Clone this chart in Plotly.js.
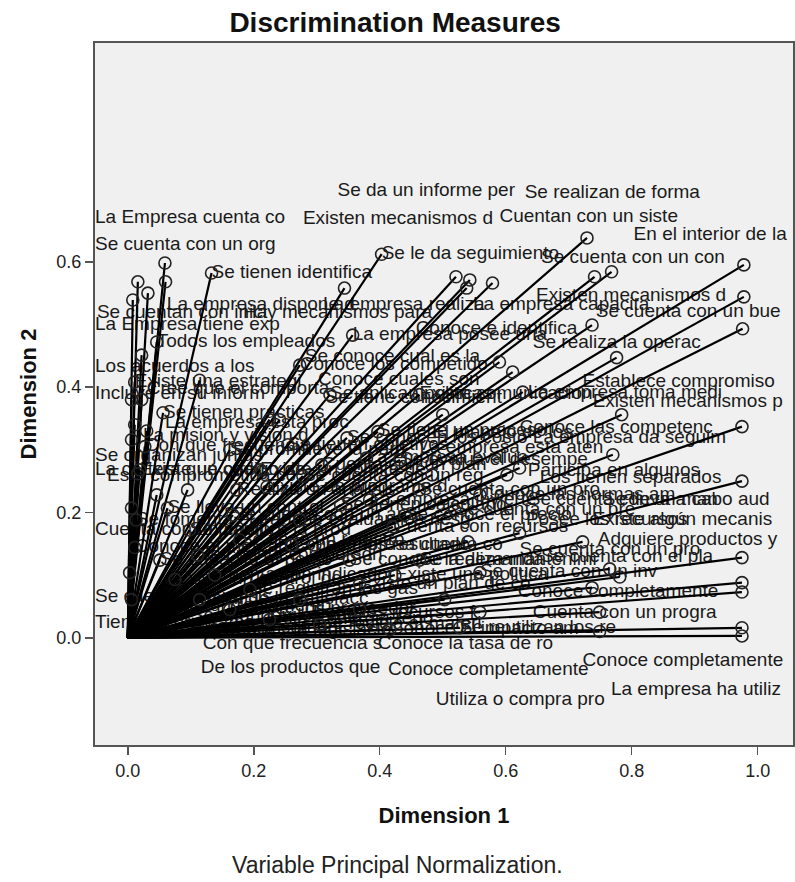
<!DOCTYPE html>
<html>
<head>
<meta charset="utf-8">
<script src="https://cdn.plot.ly/plotly-3.0.1.min.js"></script>
<style>html,body{margin:0;padding:0;background:#fff;}#chart{width:795px;height:882px;}</style>
</head>
<body>
<div id="chart"></div>
<script>
// Variable names (truncated as in the SPSS output)
const varNames = [
"La Empresa cuenta co","Se cuenta con un org","Se cuentan con inici","La empresa dispone d","Se tienen identifica",
"Se le da seguimiento","Se da un informe per","La empresa posee una","Existen mecanismos d","La empresa realiza",
"Hay mecanismos para","La empresa capacita","Se realizan de forma","Cuentan con un siste","Se cuenta con un con",
"En el interior de la","Existen mecanismos d","Se cuenta con un bue","Conoce e identifica","Se realiza la operac",
"Se conoce cual es la","Conoce cuales son","La empresa toma medi","Establece compromiso","Existen mecanismos p",
"Se tiene conocimient","La empresa da seguim","Conoce las competenc","La empresa esta aten","El manejo de los",
"Participa en algunos","Los tienen separados","Se lleva a cabo aud","Se cuenta con un man","Existe algún mecanis",
"Posee los recursos","Adquiere productos y","Se cuenta con un pro","Se cuenta con el pla","Conoce completamente",
"Cuenta con un progra","Conoce completamente","La empresa ha utiliz","Utiliza o compra pro","Conoce completamente",
"Conoce la tasa de ro","De los productos que","Con que frecuencia s","Todos los empleados","La Empresa tiene exp",
"Los acuerdos a los","Existe una estrategi","Incluye en su inform","Cree que el comporta","Se tienen practicas",
"La empresa esta proc","La mision y vision d","Con que frecuencia","Se organizan juntas","La cartera que ofrec",
"Esta comprometida co","Cuenta con un equipo","Se cuenta con un sis","Tiene un programa de","Se lleva un control",
"Conoce el mercado","Se cuenta con person","Cuenta con un plan","Se tiene un proceso","Se conocen los costo",
"La empresa evalua","Se cuenta con un reg","Se tienen calculado","Cuenta con recursos","Se conoce el precio",
"Se cuenta con un pre","Realiza un analisis","Existe un programa d","Se cuenta con un ana","Se tiene un registro",
"Conoce los resultado","La empresa cuenta co","Se conoce la demanda","Tiene los recursos f","Se cuenta con un inv",
"Conoce los competido","Se aplican politicas","Existe comunicacion","Se evalua el desempe","Se tienen objetivos",
"Existe una politica",
"Se capacita al perso","Existe un control de","Se mide la satisfacc","Conoce los proveedor","Se planifica la prod",
"Cuenta con indicador","Se registran los gas","Utiliza energia reno","Se recicla el materi","Conoce el impacto am",
"Se reutilizan los re","Se realiza mantenimi","Existe un plan de co","Se evaluan los riesg","La empresa invierte",
"Se cuenta con un pro","Conoce las normas am","Existe un comite de","Se promueve la parti","Conoce la legislacio",
"Se difunden los valo","Existe un codigo de","Se fomenta el trabaj","Existe un reglamento","Se apoya a la comuni"
];
// Discrimination measures, dimension 1
const dim1 = [
0.016,0.059,0.032,0.060,0.133, 0.403,0.344,0.357,0.521,0.543,
0.538,0.579,0.729,0.741,0.768, 0.978,0.978,0.976,0.737,0.776,
0.611,0.590,0.627,0.784,0.975, 0.500,0.770,0.622,0.602,0.483,
0.722,0.975,0.975,0.622,0.975, 0.540,0.765,0.781,0.975,0.737,
0.749,0.975,0.975,0.749,0.559, 0.503,0.368,0.273,0.046,0.022,
0.006,0.011,0.011,0.225,0.056, 0.030,0.006,0.027,0.016,0.046,
0.095,0.006,0.006,0.003,0.063, 0.011,0.111,0.308,0.397,0.348,
0.379,0.278,0.338,0.421,0.440, 0.519,0.173,0.221,0.167,0.178,
0.260,0.297,0.352,0.479,0.559, 0.273,0.321,0.463,0.432,0.254,
0.424,
0.051,0.075,0.114,0.162,0.098, 0.138,0.194,0.225,0.305,0.416,
0.527,0.463,0.368,0.273,0.384, 0.463,0.559,0.210,0.162,0.241,
0.114,0.019,0.013,0.022,0.008
];
// Discrimination measures, dimension 2
const dim2 = [
0.568,0.598,0.550,0.568,0.582, 0.612,0.558,0.483,0.576,0.571,
0.558,0.566,0.638,0.576,0.584, 0.595,0.544,0.493,0.499,0.447,
0.424,0.440,0.392,0.356,0.337, 0.356,0.292,0.271,0.260,0.260,
0.153,0.250,0.128,0.167,0.088, 0.153,0.110,0.097,0.073,0.080,
0.041,0.016,0.003,0.010,0.041, 0.061,0.045,0.061,0.472,0.451,
0.380,0.408,0.340,0.348,0.359, 0.330,0.316,0.305,0.262,0.228,
0.236,0.207,0.061,0.104,0.207, 0.144,0.132,0.276,0.329,0.319,
0.287,0.258,0.212,0.177,0.196, 0.204,0.236,0.241,0.196,0.156,
0.148,0.148,0.124,0.093,0.104, 0.435,0.388,0.388,0.284,0.308,
0.100,
0.124,0.093,0.061,0.045,0.172, 0.100,0.077,0.029,0.021,0.013,
0.016,0.124,0.085,0.188,0.220, 0.236,0.228,0.268,0.300,0.348,
0.411,0.268,0.188,0.380,0.539
];
// Where SPSS placed each label (null = next to its point)
const labelDim1 = [
-0.052,-0.052,-0.049,0.062,null, null,0.333,null,0.278,0.310,
0.183,0.548,0.630,0.590,0.656, 0.803,0.648,0.743,0.457,0.643,
0.281,0.302,0.635,0.722,0.738, 0.314,0.643,0.622,0.463,0.483,
0.635,0.654,0.754,0.635,0.738, 0.632,0.746,0.622,0.656,0.619,
0.643,0.722,0.767,0.489,0.413, 0.397,0.116,0.119,null,-0.052,
-0.052,null,-0.052,0.030,null, 0.059,0.024,null,-0.052,-0.052,
-0.033,-0.052,-0.052,-0.052,null, null,null,null,null,null,
null,null,null,null,null, null,null,null,null,null,
null,null,null,0.289,null, null,null,null,null,null,
null,
null,null,null,null,null, null,null,null,null,null,
null,null,null,null,null, null,null,null,null,0.150,
0.100,null,null,0.040,0.050
];
const labelDim2 = [
0.670,0.627,0.518,0.531,null, null,0.713,null,0.668,0.531,
0.518,0.531,0.710,0.671,0.606, 0.643,0.545,0.520,0.493,0.470,
0.447,0.411,0.391,0.407,0.376, 0.383,0.319,0.335,0.303,0.327,
0.266,0.255,0.220,0.220,0.188, 0.188,0.156,0.139,0.129,0.072,
0.040,-0.038,-0.083,-0.100,-0.051, -0.011,-0.048,-0.011,null,0.498,
0.431,null,0.388,0.396,null, 0.343,0.322,null,0.289,0.268,
0.257,0.172,0.064,0.024,null, null,null,null,null,null,
null,null,null,null,null, null,null,null,null,null,
null,null,null,0.040,null, null,null,null,null,null,
null,
null,null,null,null,null, null,null,null,null,null,
null,null,null,null,null, null,null,null,null,0.012,
0.035,null,null,0.050,0.015
];
const xTicks = [0.0,0.2,0.4,0.6,0.8,1.0];
const yTicks = [0.0,0.2,0.4,0.6];

const n = varNames.length;
const lx = [], ly = [];
for (let i = 0; i < n; i++) { lx.push(0, dim1[i], null); ly.push(0, dim2[i], null); }
const tx = varNames.map((_, i) => labelDim1[i] === null ? dim1[i] : labelDim1[i]);
const ty = varNames.map((_, i) => labelDim2[i] === null ? dim2[i] : labelDim2[i]);

const font = "Arial, 'Liberation Sans', sans-serif";
const traces = [
  { type:'scatter', mode:'text', x:tx, y:ty, text:varNames, textposition:'middle right',
    textfont:{family:font, size:19, color:'#1a1a1a'}, cliponaxis:false, hoverinfo:'skip', showlegend:false },
  { type:'scatter', mode:'lines', x:lx, y:ly, line:{color:'#000', width:2.2}, hoverinfo:'skip', showlegend:false },
  { type:'scatter', mode:'markers', x:dim1, y:dim2, text:varNames,
    marker:{symbol:'circle-open', size:12, color:'#222', line:{width:1.6, color:'#222'}}, showlegend:false }
];

const layout = {
  width:795, height:882,
  margin:{l:95, r:2, t:43, b:137},
  paper_bgcolor:'#ffffff', plot_bgcolor:'#f0f0f0',
  font:{family:font, color:'#222'},
  title:{text:'<b>Discrimination Measures</b>', font:{family:font, size:28, color:'#111'},
         x:0.497, xref:'container', y:0.975, yref:'container', xanchor:'center', yanchor:'middle'},
  xaxis:{range:[-0.052,1.056], tickvals:xTicks, tickformat:'.1f', ticks:'outside', ticklen:8, tickwidth:1.5,
         tickcolor:'#555', showline:true, mirror:true, linecolor:'#555', linewidth:2, showgrid:false, zeroline:false,
         tickfont:{family:font, size:18, color:'#222'},
         title:{text:'<b>Dimension 1</b>', font:{family:font, size:22, color:'#111'}, standoff:28}},
  yaxis:{range:[-0.171,0.949], tickvals:yTicks, tickformat:'.1f', ticks:'outside', ticklen:8, tickwidth:1.5,
         tickcolor:'#555', showline:true, mirror:true, linecolor:'#555', linewidth:2, showgrid:false, zeroline:false,
         tickfont:{family:font, size:18, color:'#222'},
         title:{text:'<b>Dimension 2</b>', font:{family:font, size:22, color:'#111'}, standoff:14}},
  annotations:[{text:'Variable Principal Normalization.', xref:'paper', yref:'paper', x:0.433, y:-0.171,
                xanchor:'center', yanchor:'middle', showarrow:false, font:{family:font, size:23, color:'#222'}}]
};
Plotly.newPlot('chart', traces, layout, {displayModeBar:false, staticPlot:true});
</script>
</body>
</html>
